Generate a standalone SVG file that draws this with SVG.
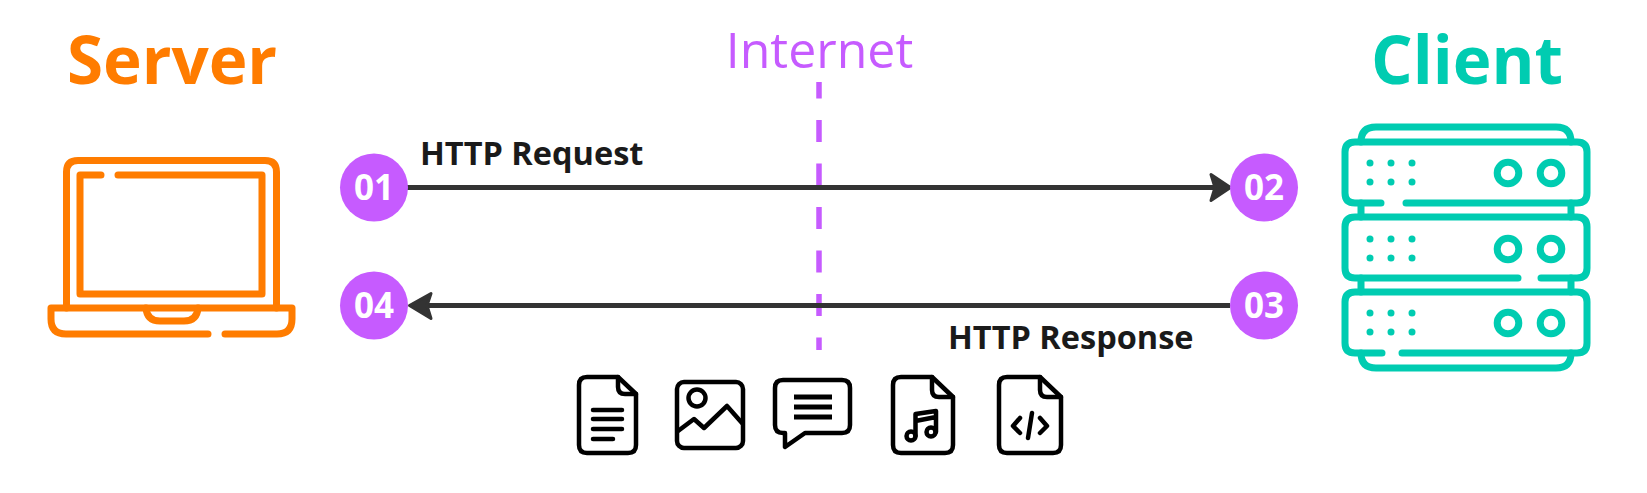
<svg xmlns="http://www.w3.org/2000/svg" width="1647" height="493" viewBox="0 0 1647 493">
<style>
.t{font-family:"Open Sans","Noto Sans",sans-serif}
.b{font-weight:700}
.o{fill:none;stroke:#ff7c00;stroke-width:7;stroke-linecap:round;stroke-linejoin:round}
.g{fill:none;stroke:#00ccb1;stroke-width:7;stroke-linecap:round;stroke-linejoin:round}
.r{fill:none;stroke:#00ccb1;stroke-width:7}
.d{fill:#00ccb1}
.k{fill:none;stroke:#000;stroke-width:4.5;stroke-linecap:round;stroke-linejoin:round}
.c{fill:#c65bff}
.n{fill:#fff;font-size:35px;font-weight:700;text-anchor:middle}
.l{fill:#1a1a1a;font-size:32.500px;font-weight:700}
.a{fill:none;stroke:#333;stroke-width:5}
</style>
<defs>
<g id="dots"><circle class="d" cx="1370" cy="0" r="3.5"/><circle class="d" cx="1391" cy="0" r="3.5"/><circle class="d" cx="1412" cy="0" r="3.5"/><circle class="d" cx="1370" cy="19" r="3.5"/><circle class="d" cx="1391" cy="19" r="3.5"/><circle class="d" cx="1412" cy="19" r="3.5"/><circle class="r" cx="1508" cy="10" r="10.8"/><circle class="r" cx="1551" cy="10" r="10.8"/></g>
</defs>
<g id="internet"><text class="t" x="819.500" y="68" font-size="50" fill="#c65bff" text-anchor="middle">Internet</text><path d="M819 82V350" fill="none" stroke="#c65bff" stroke-width="5.500" stroke-dasharray="22 21.500" stroke-dashoffset="5.500"/></g>
<g id="connectors">
<path class="a" d="M405 187.500H1220"/><path class="a" d="M1230 305.500H425"/>
<path fill="#333" stroke="#333" stroke-width="3" stroke-linejoin="round" d="M1230.500 187.500L1211 174.500L1215 187.500L1211 200.500Z"/>
<path fill="#333" stroke="#333" stroke-width="3" stroke-linejoin="round" d="M409.500 305.500L431 293.500L427 305.500L431 318.500Z"/>
</g>
<g id="server">
<text class="t b" x="172" y="84" font-size="65.500" fill="#ff7c00" text-anchor="middle">Server</text>
<path class="o" d="M66.500 308V172Q66.500 160.500 78 160.500H265Q276.500 160.500 276.500 172V308"/>
<path class="o" d="M101 175H80V294H262V175H118"/>
<path class="o" d="M208 334H66Q51 334 51 319V308H292V319Q292 334 277 334H225"/>
<path class="o" d="M146 308Q147 321 160 321H184Q197 321 198 308"/>
</g>
<g id="client">
<text class="t b" x="1467" y="84" font-size="65.500" fill="#00ccb1" text-anchor="middle">Client</text>
<path class="g" d="M1361 142Q1361 127 1376 127H1556Q1571 127 1571 142"/>
<path class="g" d="M1381 203H1355Q1345 203 1345 193V152Q1345 142 1355 142H1577Q1587 142 1587 152V193Q1587 203 1577 203H1406"/>
<path class="g" d="M1361 203V217M1571 203V217M1361 278V292M1571 278V292"/>
<path class="g" d="M1518 278H1355Q1345 278 1345 268V227Q1345 217 1355 217H1577Q1587 217 1587 227V268Q1587 278 1577 278H1541"/>
<path class="g" d="M1382 353H1355Q1345 353 1345 343V302Q1345 292 1355 292H1577Q1587 292 1587 302V343Q1587 353 1577 353H1402"/>
<path class="g" d="M1361 353Q1361 368 1376 368H1556Q1571 368 1571 353"/>
<use href="#dots" y="163"/><use href="#dots" y="239"/><use href="#dots" y="313"/>
</g>
<g id="step-01"><circle class="c" cx="374" cy="187.500" r="34"/><text class="t n" x="374" y="200">01</text></g>
<g id="step-02"><circle class="c" cx="1264" cy="187.500" r="34"/><text class="t n" x="1264" y="200">02</text></g>
<g id="step-03"><circle class="c" cx="1264" cy="305.500" r="34"/><text class="t n" x="1264" y="318">03</text></g>
<g id="step-04"><circle class="c" cx="374" cy="305.500" r="34"/><text class="t n" x="374" y="318">04</text></g>
<text class="t l" x="420" y="165">HTTP Request</text>
<text class="t l" x="948" y="349">HTTP Response</text>
<g id="doc"><path class="k" d="M618 377H587Q579 377 579 385V445Q579 453 587 453H628Q636 453 636 445V394Z"/><path class="k" d="M618 377V387Q618 394 625 394H636"/><path class="k" d="M593 410H622M593 419H622M593 429H622M593 439H613"/></g>
<g id="image"><rect class="k" x="677" y="382" width="66" height="66" rx="7"/><circle class="k" cx="697" cy="398" r="8.500"/><path class="k" d="M678 431L694 419L704 428L727 406L742 423"/></g>
<g id="chat"><path class="k" d="M785 447V433H783Q775 433 775 425V388Q775 380 783 380H842Q850 380 850 388V425Q850 433 842 433H805Z"/><path d="M794 397H832M794 407H832M794 417H832" fill="none" stroke="#000" stroke-width="5"/></g>
<g id="music"><path class="k" d="M932 377H901Q893 377 893 385V445Q893 453 901 453H945Q953 453 953 445V397Z"/><path class="k" d="M932 377V390Q932 397 939 397H953"/><circle class="k" cx="911" cy="436" r="4.500"/><circle class="k" cx="931" cy="432" r="4.500"/><path class="k" d="M915.500 436V414L936 411V432M915.500 421L936 417"/></g>
<g id="code"><path class="k" d="M1040 377H1007Q999 377 999 385V445Q999 453 1007 453H1053Q1061 453 1061 445V397Z"/><path class="k" d="M1040 377V390Q1040 397 1047 397H1061"/><path class="k" d="M1020 418L1013 426L1020 433M1032 413L1028 438M1040 418L1047 426L1040 433"/></g>
</svg>
